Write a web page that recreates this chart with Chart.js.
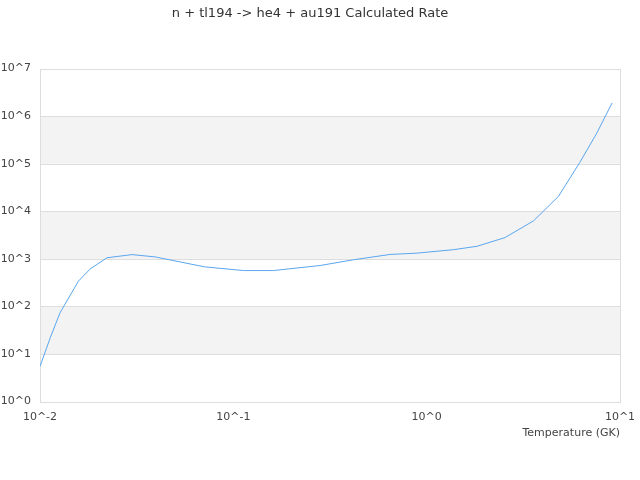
<!DOCTYPE html>
<html>
<head>
<meta charset="utf-8">
<title>n + tl194 -> he4 + au191 Calculated Rate</title>
<script src="https://cdn.jsdelivr.net/npm/chart.js@4.4.1/dist/chart.umd.min.js"></script>
<style>
  html, body { margin: 0; padding: 0; background: #fff; }
</style>
</head>
<body>
<canvas id="chart" width="640" height="480"></canvas>
<script>
// Temperature (GK) and rate
let temperatures = [0.01, 0.0113, 0.0127, 0.0158, 0.0182, 0.0222, 0.0299, 0.0394, 0.071, 0.113, 0.161, 0.281, 0.418, 0.647, 0.889, 1.375, 1.82, 2.54, 3.57, 4.8, 6.2, 7.6, 9.1];
let rates = [5.5, 22, 74, 340, 617, 1055, 1230, 1100, 680, 568, 568, 725, 957, 1240, 1320, 1560, 1840, 2800, 6300, 20500, 107000, 447000, 1.9e6];

let xTicks = [0.01, 0.1, 1, 10];
let xTickLabels = ["10^-2", "10^-1", "10^0", "10^1"];
let yTicks = [1, 10, 100, 1e3, 1e4, 1e5, 1e6, 1e7];
let yTickLabels = ["10^0", "10^1", "10^2", "10^3", "10^4", "10^5", "10^6", "10^7"];

// grey bands between every other decade, plus a frame round the plot
const bandsPlugin = {
  id: "bands",
  beforeDatasetsDraw(chart) {
    const { ctx, chartArea, scales } = chart;
    ctx.save();
    ctx.fillStyle = "#f3f3f3";
    for (let i = 1; i < yTicks.length - 1; i += 2) {
      let top = scales.y.getPixelForValue(yTicks[i + 1]);
      let bottom = scales.y.getPixelForValue(yTicks[i]);
      ctx.fillRect(chartArea.left, top, chartArea.right - chartArea.left, bottom - top);
    }
    // horizontal grid lines over the bands
    ctx.strokeStyle = "#dddddd";
    ctx.lineWidth = 1;
    yTicks.forEach(v => {
      let y = Math.round(scales.y.getPixelForValue(v)) + 0.5;
      ctx.beginPath();
      ctx.moveTo(chartArea.left, y);
      ctx.lineTo(chartArea.right, y);
      ctx.stroke();
    });
    ctx.strokeRect(Math.round(chartArea.left) + 0.5, Math.round(chartArea.top) + 0.5,
      Math.round(chartArea.right - chartArea.left), Math.round(chartArea.bottom - chartArea.top));
    ctx.restore();
  }
};

let chart = new Chart(document.getElementById("chart"), {
  type: "line",
  data: {
    datasets: [{
      label: "rate",
      data: temperatures.map((t, i) => ({ x: t, y: rates[i] })),
      borderColor: "#5aa6ee",
      borderWidth: 1,
      pointRadius: 0,
      fill: false,
      tension: 0
    }]
  },
  options: {
    responsive: false,
    animation: false,
    devicePixelRatio: 1,
    layout: { padding: { top: 0, right: 20, bottom: 36, left: 0 } },
    plugins: {
      legend: { display: false },
      tooltip: { enabled: false },
      title: {
        display: true,
        text: "n + tl194 -> he4 + au191 Calculated Rate",
        color: "#333",
        font: { family: "DejaVu Sans", size: 13, weight: "normal" },
        padding: { top: 6, bottom: 47 }
      }
    },
    scales: {
      x: {
        type: "logarithmic",
        min: 0.01,
        max: 10,
        afterBuildTicks: scale => { scale.ticks = xTicks.map(v => ({ value: v })); },
        ticks: {
          callback: (v) => xTickLabels[xTicks.indexOf(v)],
          color: "#444",
          font: { family: "DejaVu Sans", size: 11 },
          maxRotation: 0,
          padding: 1
        },
        grid: { display: false },
        border: { display: false },
        title: {
          display: true,
          text: "Temperature (GK)",
          align: "end",
          color: "#444",
          font: { family: "DejaVu Sans", size: 11 },
          padding: { top: 2 }
        }
      },
      y: {
        type: "logarithmic",
        min: 1,
        max: 1e7,
        afterBuildTicks: scale => { scale.ticks = yTicks.map(v => ({ value: v })); },
        afterFit: scale => { scale.width = 40; },
        ticks: {
          callback: (v) => yTickLabels[yTicks.indexOf(v)],
          color: "#444",
          font: { family: "DejaVu Sans", size: 11 },
          padding: 1
        },
        grid: { display: false },
        border: { display: false }
      }
    }
  },
  plugins: [bandsPlugin]
});
</script>
</body>
</html>
